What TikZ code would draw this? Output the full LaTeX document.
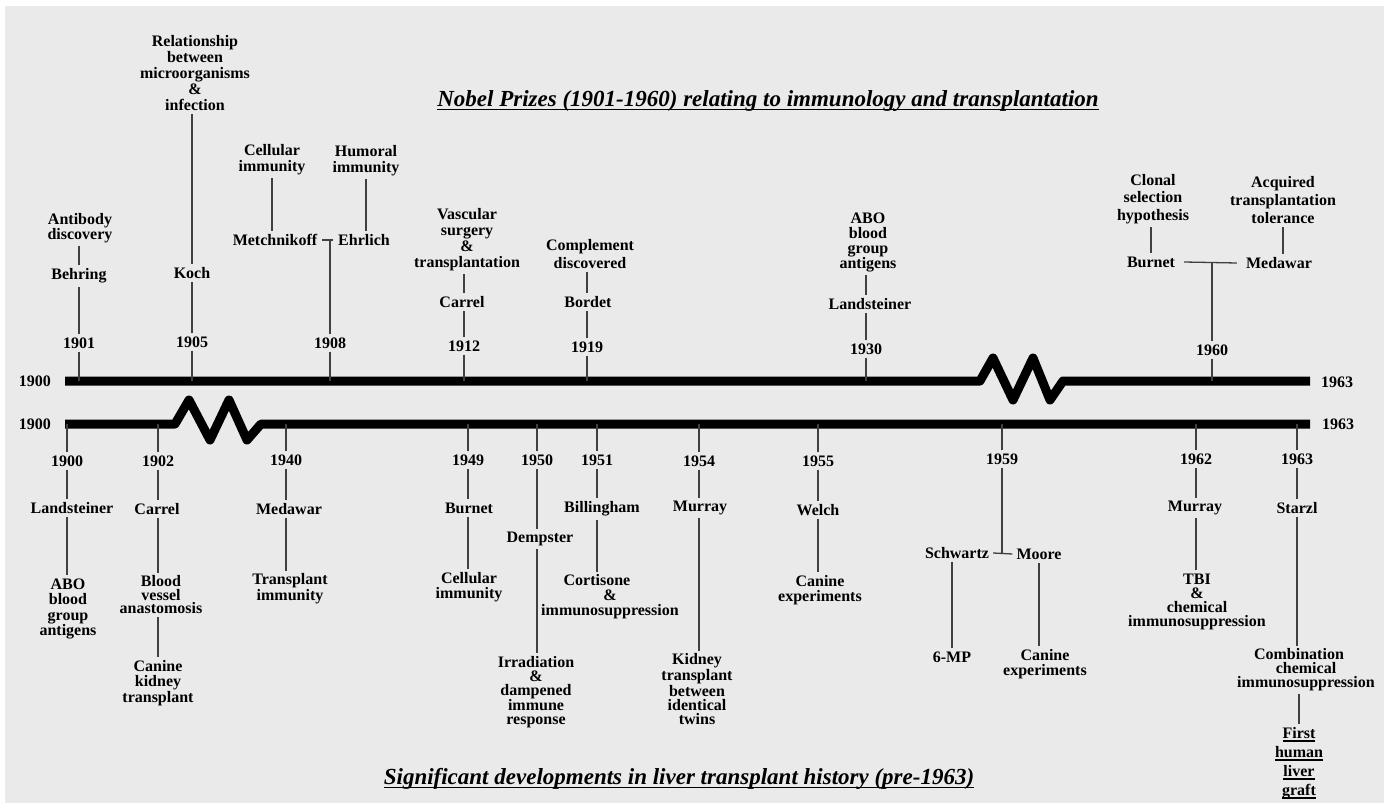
\documentclass[tikz,border=0pt]{standalone}
\usepackage{fontspec}
\setmainfont{Liberation Serif}
\newcommand\myul[1]{\setbox0=\hbox{#1}\leavevmode\rlap{\vrule height -2.2pt depth 3.8pt width \wd0}\box0}
\newcommand\fs[1]{\bfseries\fontsize{16}{#1}\selectfont}
\definecolor{bgc}{HTML}{EAEAEA}
\begin{document}
\begin{tikzpicture}[x=1pt,y=-1pt,
  lbl/.style={font=\fs{16}, align=center, inner sep=3pt, text=black},
  conn/.style={draw=black!75, line width=1.3pt},
  axis/.style={line width=9pt, line join=round},
  ttl/.style={font=\bfseries\itshape\fontsize{23}{26}\selectfont, inner sep=2pt}]
\useasboundingbox (0,0) rectangle (1390,805);
\fill[white] (0,0) rectangle (1390,805);
\fill[bgc] (5,6) rectangle (1384,803);

\coordinate (TL) at (0,381);
\coordinate (BL) at (0,424);

% axes
\draw[axis] (65,381) -- (980,381) -- (993,358) -- (1013,400) -- (1033,358) -- (1050,400) -- (1063,381) -- (1310,381);
\draw[axis] (65,424) -- (175,424) -- (189,400) -- (210,440) -- (229,400) -- (247,440) -- (261,424) -- (1310,424);
\node[lbl] (l1900a) at (35,381) {1900};
\node[lbl] (l1963a) at (1337,382) {1963};
\node[lbl] (l1900b) at (35,424) {1900};
\node[lbl] (l1963b) at (1338,424) {1963};

% titles
\node[ttl] (title1) at (768,101) {\myul{Nobel Prizes (1901-1960) relating to immunology and transplantation}};
\node[ttl] (title2) at (679,779) {\myul{Significant developments in liver transplant history (pre-1963)}};

% ---------- top: Nobel prizes ----------
\node[lbl] (t1901) at (79,343) {1901};
\node[lbl] (behring) at (79,276) {Behring};
\node[lbl, font=\fs{15}] (antibody) at (80,228) {Antibody\\discovery};
\draw[conn] (t1901.south) -- (t1901.south |- TL);
\draw[conn] (t1901.north) -- (t1901.north |- behring.south);
\draw[conn] (behring.north -| t1901) -- (antibody.south -| t1901);

\node[lbl] (t1905) at (192,342) {1905};
\node[lbl] (koch) at (192,273) {Koch};
\node[lbl] (relation) at (195,73) {Relationship\\between\\microorganisms\\\&\\infection};
\draw[conn] (t1905.south) -- (t1905.south |- TL);
\draw[conn] (t1905.north) -- (t1905.north |- koch.south);
\draw[conn] (koch.north -| t1905) -- (relation.south -| t1905);

\node[lbl] (t1908) at (330,343) {1908};
\node[lbl] (metch) at (275,240) {Metchnikoff};
\node[lbl] (ehrlich) at (364,240) {Ehrlich};
\node[lbl] (cellular) at (272,160) {Cellular\\immunity};
\node[lbl] (humoral) at (366,161) {Humoral\\immunity};
\draw[conn] (t1908.south) -- (t1908.south |- TL);
\draw[conn] ([xshift=2pt]metch.east) -- ([xshift=-2pt]ehrlich.west);
\draw[conn] (t1908.north) -- (t1908.north |- metch.east);
\draw[conn] (cellular.south) -- (cellular.south |- metch.north);
\draw[conn] (humoral.south) -- (humoral.south |- ehrlich.north);

\node[lbl] (t1912) at (464,346) {1912};
\node[lbl] (carrel) at (462,302) {Carrel};
\node[lbl] (vascular) at (467,240) {Vascular\\surgery\\\&\\transplantation};
\draw[conn] (t1912.south) -- (t1912.south |- TL);
\draw[conn] (t1912.north) -- (t1912.north |- carrel.south);
\draw[conn] (carrel.north -| t1912) -- (vascular.south -| t1912);

\node[lbl] (t1919) at (587,347) {1919};
\node[lbl] (bordet) at (588,302) {Bordet};
\node[lbl, font=\fs{17.5}] (complement) at (590,254) {Complement\\discovered};
\draw[conn] (t1919.south) -- (t1919.south |- TL);
\draw[conn] (t1919.north) -- (t1919.north |- bordet.south);
\draw[conn] (bordet.north -| t1919) -- (complement.south -| t1919);

\node[lbl] (t1930) at (866,349) {1930};
\node[lbl] (landtop) at (870,304) {Landsteiner};
\node[lbl, font=\fs{15}] (abotop) at (868,242) {ABO\\blood\\group\\antigens};
\draw[conn] (t1930.south) -- (t1930.south |- TL);
\draw[conn] (t1930.north) -- (t1930.north |- landtop.south);
\draw[conn] (landtop.north -| t1930) -- (abotop.south -| t1930);

\node[lbl] (t1960) at (1212,350) {1960};
\node[lbl] (burnettop) at (1151,262) {Burnet};
\node[lbl] (medawartop) at (1279,263) {Medawar};
\node[lbl, font=\fs{17.5}] (clonal) at (1153,199) {Clonal\\selection\\hypothesis};
\node[lbl, font=\fs{18}] (acquired) at (1283,200) {Acquired\\transplantation\\tolerance};
\draw[conn] (t1960.south) -- (t1960.south |- TL);
\draw[conn] ([xshift=6pt]burnettop.east) -- ([xshift=-6pt]medawartop.west);
\draw[conn] (t1960.north) -- (t1960.north |- burnettop.east);
\draw[conn] (clonal.south -| burnettop) -- (burnettop.north);
\draw[conn] (acquired.south) -- (acquired.south |- medawartop.north);

% ---------- bottom: liver transplant history ----------
\node[lbl] (b1900) at (67,461) {1900};
\node[lbl] (landst) at (72,508) {Landsteiner};
\node[lbl, font=\fs{15.5}] (abo) at (68,609) {ABO\\blood\\group\\antigens};
\draw[conn] (b1900.north) -- (b1900.north |- BL);
\draw[conn] (b1900.south) -- (b1900.south |- landst.north);
\draw[conn] (landst.south -| b1900) -- (abo.north -| b1900);

\node[lbl] (b1902) at (158,461) {1902};
\node[lbl] (carrelb) at (157,509) {Carrel};
\node[lbl, font=\fs{13.5}] (blood) at (161,595) {Blood\\vessel\\anastomosis};
\node[lbl, font=\fs{15.5}] (caninek) at (158,683) {Canine\\kidney\\transplant};
\draw[conn] (b1902.north) -- (b1902.north |- BL);
\draw[conn] (b1902.south) -- (b1902.south |- carrelb.north);
\draw[conn] (carrelb.south -| b1902) -- (blood.north -| b1902);
\draw[conn] (blood.south -| b1902) -- (caninek.north -| b1902);

\node[lbl] (b1940) at (286,460) {1940};
\node[lbl] (medawarb) at (289,509) {Medawar};
\node[lbl] (transimm) at (290,589) {Transplant\\immunity};
\draw[conn] (b1940.north) -- (b1940.north |- BL);
\draw[conn] (b1940.south) -- (b1940.south |- medawarb.north);
\draw[conn] (medawarb.south -| b1940) -- (transimm.north -| b1940);

\node[lbl] (b1949) at (468,460) {1949};
\node[lbl] (burnetb) at (469,508) {Burnet};
\node[lbl, font=\fs{15}] (cellb) at (469,587) {Cellular\\immunity};
\draw[conn] (b1949.north) -- (b1949.north |- BL);
\draw[conn] (b1949.south) -- (b1949.south |- burnetb.north);
\draw[conn] (burnetb.south -| b1949) -- (cellb.north -| b1949);

\node[lbl] (b1950) at (537,460) {1950};
\node[lbl] (dempster) at (540,539) {Dempster};
\node[lbl, font=\fs{14}] (irrad) at (536,692) {Irradiation\\\&\\dampened\\immune\\response};
\draw[conn] (b1950.north) -- (b1950.north |- BL);
\draw[conn] (b1950.south) -- (b1950.south |- dempster.north);
\draw[conn] (dempster.south -| b1950) -- (irrad.north -| b1950);

\node[lbl] (b1951) at (597,460) {1951};
\node[lbl] (billingham) at (602,509) {Billingham};
\node[lbl, font=\fs{15}] (cortisone) at (610,597) {Cortisone\hspace*{26pt}\\\&\hspace*{34pt}\\immunosuppression};
\draw[conn] (b1951.north) -- (b1951.north |- BL);
\draw[conn] (b1951.south) -- (b1951.south |- billingham.north);
\draw[conn] (billingham.south -| b1951) -- (cortisone.north -| b1951);

\node[lbl] (b1954) at (699,461) {1954};
\node[lbl] (murray) at (700,508) {Murray};
\node[lbl, font=\fs{14}] (kidney) at (697,689) {Kidney\\transplant\\between\\identical\\twins};
\draw[conn] (b1954.north) -- (b1954.north |- BL);
\draw[conn] (b1954.south) -- (b1954.south |- murray.north);
\draw[conn] (murray.south -| b1954) -- (kidney.north -| b1954);

\node[lbl] (b1955) at (818,461) {1955};
\node[lbl] (welch) at (818,510) {Welch};
\node[lbl, font=\fs{15}] (caninee) at (820,590) {Canine\\experiments};
\draw[conn] (b1955.north) -- (b1955.north |- BL);
\draw[conn] (b1955.south) -- (b1955.south |- welch.north);
\draw[conn] (welch.south -| b1955) -- (caninee.north -| b1955);

\node[lbl] (b1959) at (1002,459) {1959};
\node[lbl] (schwartz) at (957,553) {Schwartz};
\node[lbl] (moore) at (1039,554) {Moore};
\node[lbl] (sixmp) at (952,657) {6-MP};
\node[lbl, font=\fs{14.5}] (caninee2) at (1045,664) {Canine\\experiments};
\draw[conn] (b1959.north) -- (b1959.north |- BL);
\draw[conn] ([xshift=1pt]schwartz.east) -- ([xshift=-1pt]moore.west);
\draw[conn] (b1959.south) -- (b1959.south |- schwartz.east);
\draw[conn] (schwartz.south -| sixmp) -- (sixmp.north);
\draw[conn] (moore.south) -- (moore.south |- caninee2.north);

\node[lbl] (b1962) at (1196,459) {1962};
\node[lbl] (murray2) at (1195,508) {Murray};
\node[lbl, font=\fs{14.3}] (tbi) at (1197,602) {TBI\\\&\\chemical\\immunosuppression};
\draw[conn] (b1962.north) -- (b1962.north |- BL);
\draw[conn] (b1962.south) -- (b1962.south |- murray2.north);
\draw[conn] (murray2.south -| b1962) -- (tbi.north -| b1962);

\node[lbl] (b1963) at (1297,459) {1963};
\node[lbl] (starzl) at (1297,508) {Starzl};
\node[lbl, font=\fs{14}] (combo) at (1306,670) {Combination\hspace*{14pt}\\chemical\hspace*{22pt}\\immunosuppression};
\node[lbl, font=\fs{19}] (first) at (1299,763) {\myul{First}\\\myul{human}\\\myul{liver}\\\myul{graft}};
\draw[conn] (b1963.north) -- (b1963.north |- BL);
\draw[conn] (b1963.south) -- (b1963.south |- starzl.north);
\draw[conn] (starzl.south) -- (starzl.south |- combo.north);
\draw[conn] (combo.south -| first) -- (first.north);
\end{tikzpicture}
\end{document}
